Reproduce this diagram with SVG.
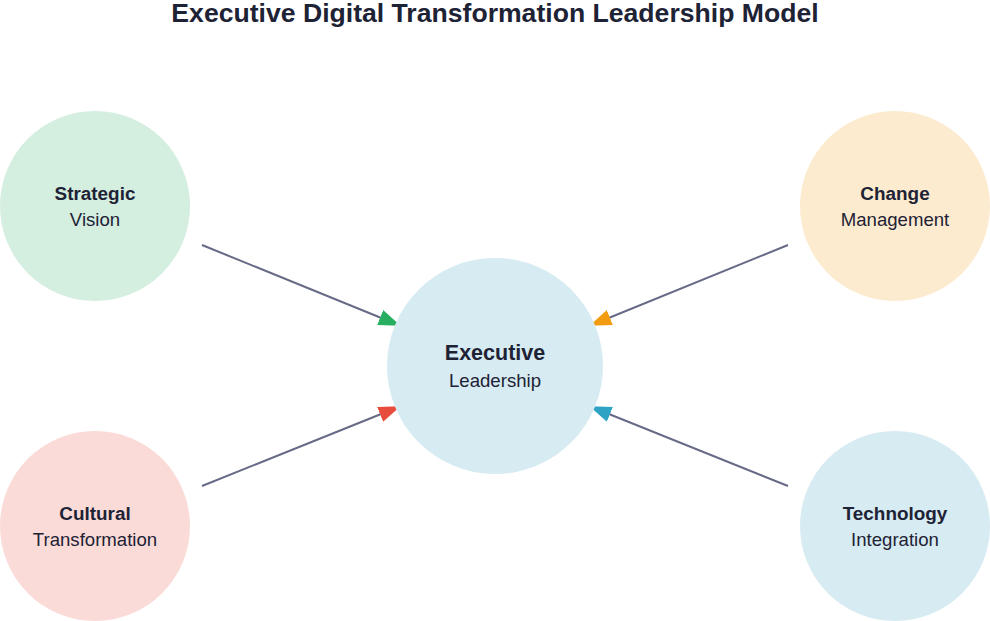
<svg xmlns="http://www.w3.org/2000/svg" width="990" height="621" viewBox="0 0 990 621">
<defs>
<style>
.title{font-family:"Liberation Sans",Arial,sans-serif;font-weight:700;font-size:26.6px;fill:#1e2235;text-anchor:middle}
.b{font-family:"Liberation Sans",Arial,sans-serif;font-weight:700;font-size:18.9px;fill:#1e2235;text-anchor:middle}
.r{font-family:"Liberation Sans",Arial,sans-serif;font-size:18.6px;fill:#1e2235;text-anchor:middle}
.bc{font-family:"Liberation Sans",Arial,sans-serif;font-weight:700;font-size:21.5px;fill:#1e2235;text-anchor:middle}
.edge{stroke:#666a86;stroke-width:2;fill:none}
</style>
<marker id="mg" viewBox="0 0 22 16" refX="22.5" refY="8" markerWidth="22" markerHeight="16" markerUnits="userSpaceOnUse" orient="auto"><path d="M0,0 L22,8 L0,16 Z" fill="#27ae60"/></marker>
<marker id="mo" viewBox="0 0 22 16" refX="22.5" refY="8" markerWidth="22" markerHeight="16" markerUnits="userSpaceOnUse" orient="auto"><path d="M0,0 L22,8 L0,16 Z" fill="#f39c12"/></marker>
<marker id="mr" viewBox="0 0 22 16" refX="22.5" refY="8" markerWidth="22" markerHeight="16" markerUnits="userSpaceOnUse" orient="auto"><path d="M0,0 L22,8 L0,16 Z" fill="#e74c3c"/></marker>
<marker id="mb" viewBox="0 0 22 16" refX="22.5" refY="8" markerWidth="22" markerHeight="16" markerUnits="userSpaceOnUse" orient="auto"><path d="M0,0 L22,8 L0,16 Z" fill="#2ea3c4"/></marker>
</defs>
<rect width="990" height="621" fill="#ffffff"/>
<text class="title" x="495" y="22">Executive Digital Transformation Leadership Model</text>
<g id="connectors">
<line class="edge" x1="202" y1="245" x2="401" y2="326" marker-end="url(#mg)"/>
<line class="edge" x1="788" y1="245" x2="589" y2="326" marker-end="url(#mo)"/>
<line class="edge" x1="202" y1="486" x2="401" y2="406" marker-end="url(#mr)"/>
<line class="edge" x1="788" y1="486" x2="589" y2="406" marker-end="url(#mb)"/>
</g>
<g id="center">
<circle cx="495" cy="366" r="108" fill="#d6ebf2"/>
<text class="bc" x="495" y="359.5">Executive</text>
<text class="r" x="495" y="386.5">Leadership</text>
</g>
<g id="strategic">
<circle cx="95" cy="206" r="95" fill="#d4eee0"/>
<text class="b" x="95" y="199.5">Strategic</text>
<text class="r" x="95" y="226">Vision</text>
</g>
<g id="change">
<circle cx="895" cy="206" r="95" fill="#fdebd0"/>
<text class="b" x="895" y="199.5">Change</text>
<text class="r" x="895" y="226">Management</text>
</g>
<g id="cultural">
<circle cx="95" cy="526" r="95" fill="#fadbd8"/>
<text class="b" x="95" y="519.5">Cultural</text>
<text class="r" x="95" y="546">Transformation</text>
</g>
<g id="technology">
<circle cx="895" cy="526" r="95" fill="#d6ebf2"/>
<text class="b" x="895" y="519.5">Technology</text>
<text class="r" x="895" y="546">Integration</text>
</g>
</svg>
